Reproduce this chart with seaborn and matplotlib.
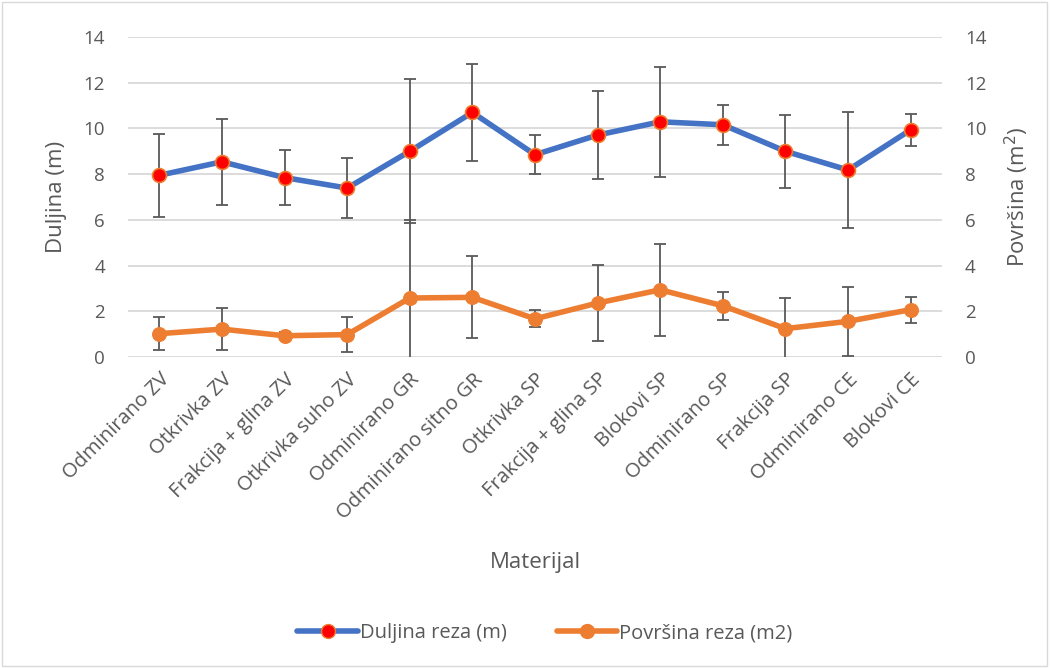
import numpy as np
import pandas as pd
import matplotlib
matplotlib.use("Agg")
import matplotlib.pyplot as plt
import seaborn as sns
from matplotlib.lines import Line2D
from matplotlib.patches import Rectangle

materijal = ["Odminirano ZV", "Otkrivka ZV", "Frakcija + glina ZV", "Otkrivka suho ZV",
             "Odminirano GR", "Odminirano sitno GR", "Otkrivka SP", "Frakcija + glina SP",
             "Blokovi SP", "Odminirano SP", "Frakcija SP", "Odminirano CE", "Blokovi CE"]
duljina = [7.95, 8.54, 7.85, 7.39, 9.00, 10.70, 8.85, 9.71, 10.29, 10.16, 9.00, 8.18, 9.94]
duljina_sd = [1.82, 1.87, 1.20, 1.30, 3.15, 2.12, 0.85, 1.93, 2.40, 0.87, 1.59, 2.55, 0.70]
povrsina = [1.02, 1.22, 0.93, 0.98, 2.58, 2.61, 1.67, 2.36, 2.94, 2.24, 1.24, 1.56, 2.07]
povrsina_sd = [0.71, 0.92, 0.15, 0.78, 3.42, 1.79, 0.37, 1.65, 2.00, 0.60, 1.34, 1.50, 0.57]

df = pd.DataFrame({"Materijal": materijal, "x": np.arange(len(materijal)),
                   "duljina": duljina, "duljina_sd": duljina_sd,
                   "povrsina": povrsina, "povrsina_sd": povrsina_sd})

sns.set_theme(style="white")
plt.rcParams["font.family"] = ["Open Sans", "DejaVu Sans"]
txt = "#595959"
blue, orange = "#4472C4", "#ED7D31"

fig = plt.figure(figsize=(10.51, 6.68), dpi=100)
ax = fig.add_axes([128 / 1051, 1 - 357 / 668, (942 - 128) / 1051, (357 - 37) / 668])
ax2 = ax.twinx()

for a in (ax, ax2):
    a.set_ylim(0, 14)
    a.set_yticks(range(0, 15, 2))
    a.set_xlim(-0.5, len(materijal) - 0.5)
    for s in a.spines.values():
        s.set_visible(False)
    a.tick_params(axis="y", length=0, labelsize=13.5, labelcolor=txt, pad=16.5)

ax.yaxis.grid(True, color="#d9d9d9", linewidth=1.3)
ax.set_axisbelow(True)

ax.errorbar(df["x"], df["duljina"], yerr=df["duljina_sd"], fmt="none",
            ecolor="#595959", elinewidth=1.3, capsize=4, capthick=1.3, zorder=2)
sns.lineplot(data=df, x="x", y="duljina", ax=ax, color=blue, linewidth=4,
             marker="o", markersize=10, markerfacecolor="red",
             markeredgecolor=orange, markeredgewidth=1.2, zorder=3)

ax2.errorbar(df["x"], df["povrsina"], yerr=df["povrsina_sd"], fmt="none",
             ecolor="#595959", elinewidth=1.3, capsize=4, capthick=1.3, zorder=2)
sns.lineplot(data=df, x="x", y="povrsina", ax=ax2, color=orange, linewidth=4,
             marker="o", markersize=10, markerfacecolor=orange,
             markeredgecolor=orange, zorder=3)
ax2.set_ylim(0, 14)

ax.set_xticks(df["x"])
ax.set_xticklabels(materijal, rotation=45, ha="right", rotation_mode="anchor",
                   fontsize=14.5, color=txt)
ax.tick_params(axis="x", length=0, pad=9)
ax2.tick_params(axis="x", length=0)
ax.set_xlabel("Materijal", fontsize=16, color=txt)
ax.xaxis.set_label_coords(0.5, -0.61)
ax.set_ylabel("Duljina (m)", fontsize=16, color=txt)
ax2.set_ylabel("Površina (m$^2$)", fontsize=16, color=txt)
ax.yaxis.set_label_coords(-0.075, 0.5)
ax2.yaxis.set_label_coords(1.075, 0.5)

handles = [
    Line2D([], [], color=blue, linewidth=4, marker="o", markersize=10,
           markerfacecolor="red", markeredgecolor=orange),
    Line2D([], [], color=orange, linewidth=4, marker="o", markersize=10,
           markerfacecolor=orange, markeredgecolor=orange),
]
fig.legend(handles, ["Duljina reza (m)", "Površina reza (m2)"], loc="center",
           bbox_to_anchor=(545 / 1051, 1 - 633 / 668), ncol=2, frameon=False,
           fontsize=14.5, labelcolor=txt, handlelength=3.0, handletextpad=0.1,
           columnspacing=2.5)

fig.patches.append(Rectangle((0.002, 0.003), 0.994, 0.994, transform=fig.transFigure,
                             fill=False, edgecolor="#d9d9d9", linewidth=1))

fig.savefig("out.png", dpi=100)
